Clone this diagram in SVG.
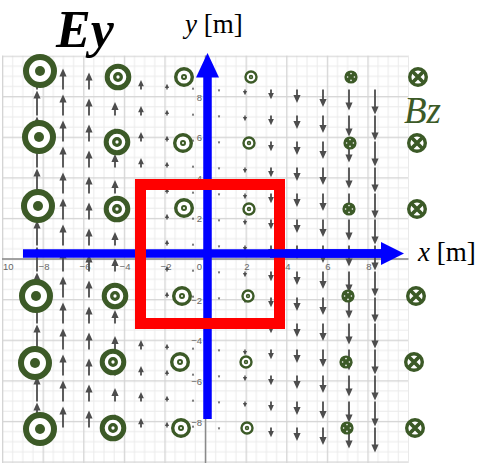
<svg xmlns="http://www.w3.org/2000/svg" xmlns:xlink="http://www.w3.org/1999/xlink" width="482" height="464" viewBox="0 0 482 464">
<style>
.tick{font-family:"Liberation Sans",Arial,sans-serif;font-size:9.5px;fill:#666}
.tx{text-anchor:middle}
.ty{text-anchor:end}
.lab{font-family:"Liberation Serif","Times New Roman",serif;font-size:27px;fill:#000}
.g{stroke:#3c5a27;fill:#fff}
.gf{fill:#3c5a27}
.fa{fill:#4d4d4d}
</style>
<defs>
<pattern id="grid" patternUnits="userSpaceOnUse" x="2" y="55.5" width="40.6" height="40.6">
<rect width="40.6" height="40.6" fill="#fff"/>
<rect x="10.15" width="1" height="40.6" fill="#ebebeb"/>
<rect x="20.3" width="1" height="40.6" fill="#ebebeb"/>
<rect x="30.45" width="1" height="40.6" fill="#ebebeb"/>
<rect y="10.15" height="1" width="40.6" fill="#ebebeb"/>
<rect y="20.3" height="1" width="40.6" fill="#ebebeb"/>
<rect y="30.45" height="1" width="40.6" fill="#ebebeb"/>
<rect width="1.3" height="40.6" fill="#d4d4d4"/>
<rect height="1.3" width="40.6" fill="#d4d4d4"/>
</pattern>
<g id="row" class="fa">
<path d="M36.1 0H37.9V-17H40.6L37-25L33.4-17H36.1Z"/>
<path d="M62.1 0H63.9V-13H66.6L63-21L59.4-13H62.1Z"/>
<path d="M88.1 0H89.9V-9H92.6L89-17L85.4-9H88.1Z"/>
<path d="M114.1 0H115.9V-5.4H118.6L115-13.4L111.4-5.4H114.1Z"/>
<path d="M140.1 0H141.9V-3.3H143.9L141-9.5L138.1-3.3H140.1Z"/>
<path d="M166.3 0H167.7V-1.4H169.1L167-5.7L164.9-1.4H166.3Z"/>
<path d="M191.8 0H194.2L193-2.4Z"/>
<path d="M217.8 0H220.2L219 2.4Z"/>
<path d="M244.3 0H245.7V1.4H247.1L245 5.8L242.9 1.4H244.3Z"/>
<path d="M270.1 0H271.9V3.4H273.9L271 9.7L268.1 3.4H270.1Z"/>
<path d="M296.1 0H297.9V5.5H300.6L297 13.5L293.4 5.5H296.1Z"/>
<path d="M322.1 0H323.9V9.4H326.6L323 17.4L319.4 9.4H322.1Z"/>
<path d="M348.1 0H349.9V13H352.6L349 21L345.4 13H348.1Z"/>
<path d="M374.1 0H375.9V17H378.6L375 25L371.4 17H374.1Z"/>
</g>
<g id="s1"><circle r="14" class="g" stroke-width="6"/><circle r="5" class="gf"/></g>
<g id="s2"><circle r="10.8" class="g" stroke-width="5"/><circle r="3.3" class="g" stroke-width="3.3"/></g>
<g id="s3"><circle r="8.3" class="g" stroke-width="3.4"/><circle r="2" class="g" stroke-width="2"/></g>
<g id="s4"><circle r="5.5" class="g" stroke-width="2.4"/><circle r="1.4" class="g" stroke-width="1.6"/></g>
<g id="s5"><circle r="6.6" class="gf"/><g fill="#fff"><circle cx="0" cy="-3.4" r="0.8"/><circle cx="0" cy="3.4" r="0.8"/><circle cx="-3.4" cy="0" r="0.8"/><circle cx="3.4" cy="0" r="0.8"/></g></g>
<g id="s6"><circle r="8.3" class="g" stroke-width="3.4"/><path d="M-6-6L6 6M6-6L-6 6" stroke="#3c5a27" stroke-width="3.8" fill="none"/></g>
</defs>

<g id="graph-paper">
<rect x="2" y="55.5" width="406.5" height="407.5" fill="url(#grid)"/>
<line x1="205.5" y1="55.5" x2="205.5" y2="463" stroke="#8a8a8a" stroke-width="1.5"/>
<line x1="2" y1="259" x2="408.5" y2="259" stroke="#8a8a8a" stroke-width="1.5"/>
</g>

<g id="tick-labels">
<text class="tick" x="3" y="270">10</text>
<text class="tick tx" x="44" y="270">−8</text>
<text class="tick tx" x="85" y="270">−6</text>
<text class="tick tx" x="125" y="270">−4</text>
<text class="tick tx" x="166" y="270">−2</text>
<text class="tick ty" x="202" y="270">0</text>
<text class="tick tx" x="247" y="270">2</text>
<text class="tick tx" x="288" y="270">4</text>
<text class="tick tx" x="328" y="270">6</text>
<text class="tick tx" x="369" y="270">8</text>
<text class="tick ty" x="202" y="100.5">8</text>
<text class="tick ty" x="202" y="141">6</text>
<text class="tick ty" x="202" y="181.5">4</text>
<text class="tick ty" x="202" y="222">2</text>
<text class="tick ty" x="202" y="303.5">−2</text>
<text class="tick ty" x="202" y="344">−4</text>
<text class="tick ty" x="202" y="385">−6</text>
<text class="tick ty" x="202" y="425.5">−8</text>
</g>

<g id="ey-field">
<use xlink:href="#row" y="89.5"/>
<use xlink:href="#row" y="115.5"/>
<use xlink:href="#row" y="141.5"/>
<use xlink:href="#row" y="167.5"/>
<use xlink:href="#row" y="193.5"/>
<use xlink:href="#row" y="219.5"/>
<use xlink:href="#row" y="245.5"/>
<use xlink:href="#row" y="271.5"/>
<use xlink:href="#row" y="297.5"/>
<use xlink:href="#row" y="323.5"/>
<use xlink:href="#row" y="349.5"/>
<use xlink:href="#row" y="375.5"/>
<use xlink:href="#row" y="401.5"/>
<use xlink:href="#row" y="427.5"/>
</g>

<g id="bz-symbols">
<use xlink:href="#s1" x="40" y="71"/>
<use xlink:href="#s1" x="39" y="137"/>
<use xlink:href="#s1" x="38" y="206"/>
<use xlink:href="#s1" x="36" y="296"/>
<use xlink:href="#s1" x="35" y="363"/>
<use xlink:href="#s1" x="40" y="429"/>
<use xlink:href="#s2" x="118" y="77"/>
<use xlink:href="#s2" x="117" y="142"/>
<use xlink:href="#s2" x="117" y="209"/>
<use xlink:href="#s2" x="115" y="296"/>
<use xlink:href="#s2" x="113" y="362"/>
<use xlink:href="#s2" x="113" y="428"/>
<use xlink:href="#s3" x="184" y="77"/>
<use xlink:href="#s3" x="183" y="143"/>
<use xlink:href="#s3" x="184" y="208"/>
<use xlink:href="#s3" x="182" y="296"/>
<use xlink:href="#s3" x="180" y="362"/>
<use xlink:href="#s3" x="181" y="428"/>
<use xlink:href="#s4" x="251" y="77"/>
<use xlink:href="#s4" x="249" y="143"/>
<use xlink:href="#s4" x="249" y="209"/>
<use xlink:href="#s4" x="248" y="296"/>
<use xlink:href="#s4" x="246" y="362"/>
<use xlink:href="#s4" x="247" y="428"/>
<use xlink:href="#s5" x="351" y="77"/>
<use xlink:href="#s5" x="350" y="143"/>
<use xlink:href="#s5" x="349" y="209"/>
<use xlink:href="#s5" x="348" y="296"/>
<use xlink:href="#s5" x="346" y="362"/>
<use xlink:href="#s5" x="347" y="428"/>
<use xlink:href="#s6" x="418" y="77"/>
<use xlink:href="#s6" x="417" y="143"/>
<use xlink:href="#s6" x="417" y="209"/>
<use xlink:href="#s6" x="416" y="296"/>
<use xlink:href="#s6" x="414" y="362"/>
<use xlink:href="#s6" x="415" y="428"/>
</g>

<g id="axes">
<rect x="203.25" y="76" width="8.5" height="343" fill="#0000ff"/>
<polygon points="196,77.5 207.5,53 219,77.5" fill="#0000ff"/>
<rect x="23" y="249.25" width="360" height="8.5" fill="#0000ff"/>
<polygon points="381,242 404,253.5 381,265" fill="#0000ff"/>
</g>

<g id="loop">
<rect x="140.5" y="184.5" width="139" height="139" fill="none" stroke="#ff0000" stroke-width="11"/>
</g>
<rect x="270" y="249.25" width="113" height="8.5" fill="#0000ff"/>

<g id="labels">
<text x="56" y="46.5" font-family="'Liberation Serif','Times New Roman',serif" font-size="52" font-weight="bold" font-style="italic">Ey</text>
<text class="lab" x="185" y="33"><tspan font-style="italic">y</tspan> [m]</text>
<text class="lab" x="418" y="261"><tspan font-style="italic">x</tspan> [m]</text>
<text x="404" y="123" font-family="'Liberation Serif','Times New Roman',serif" font-size="37" font-style="italic" fill="#3c5a27">Bz</text>
</g>
</svg>
